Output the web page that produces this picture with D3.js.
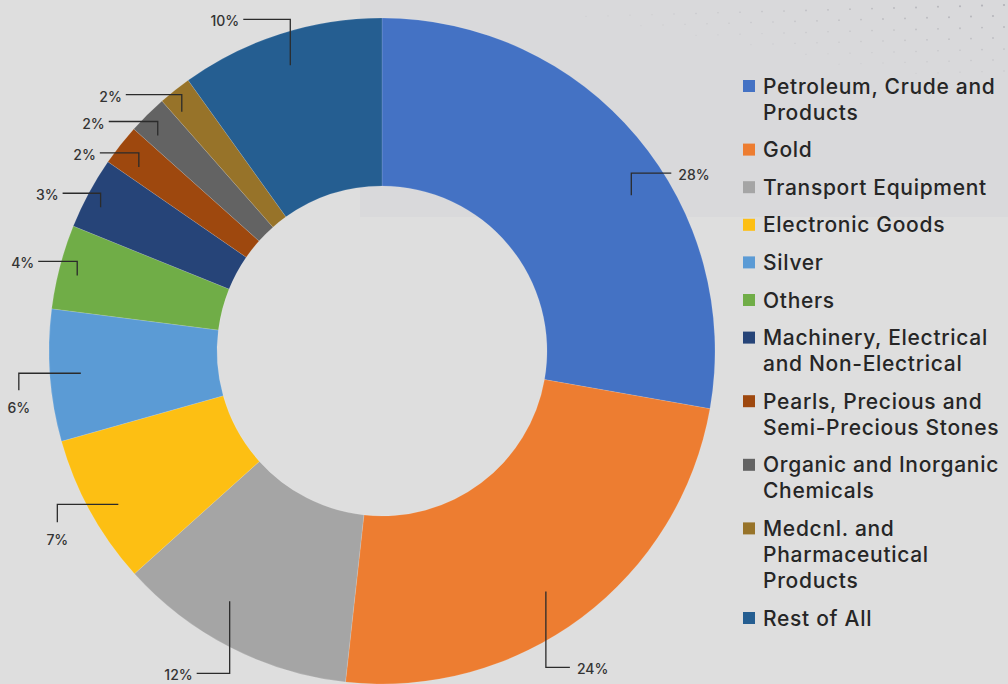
<!DOCTYPE html>
<html>
<head>
<meta charset="utf-8">
<script src="https://cdn.jsdelivr.net/npm/d3@7"></script>
<style>
  html, body { margin: 0; padding: 0; background: #dedede; }
  svg { display: block; }
</style>
</head>
<body>
<svg id="chart" width="1008" height="684"></svg>
<script>
// ---- data ----
const categories = [
  "Petroleum, Crude and Products",
  "Gold",
  "Transport Equipment",
  "Electronic Goods",
  "Silver",
  "Others",
  "Machinery, Electrical and Non-Electrical",
  "Pearls, Precious and Semi-Precious Stones",
  "Organic and Inorganic Chemicals",
  "Medcnl. and Pharmaceutical Products",
  "Rest of All"
];
const legendLines = [
  ["Petroleum, Crude and", "Products"],
  ["Gold"],
  ["Transport Equipment"],
  ["Electronic Goods"],
  ["Silver"],
  ["Others"],
  ["Machinery, Electrical", "and Non-Electrical"],
  ["Pearls, Precious and", "Semi-Precious Stones"],
  ["Organic and Inorganic", "Chemicals"],
  ["Medcnl. and", "Pharmaceutical", "Products"],
  ["Rest of All"]
];
const values = [27.8, 24.0, 11.6, 7.3, 6.4, 4.1, 3.5, 2.0, 1.9, 1.6, 9.9];
const pctLabels = ["28%", "24%", "12%", "7%", "6%", "4%", "3%", "2%", "2%", "2%", "10%"];
const colors = ["#4472c4", "#ed7d31", "#a5a5a5", "#fdbf13", "#5b9bd5", "#70ad47",
                "#264478", "#9e480e", "#636363", "#977329", "#255e91"];

// ---- leader-line layout (anchor position within slice, elbow lengths) ----
const leaders = [
  {t: 0.58, r: 294, order: "vh", a: -22, b: 40},
  {t: 0.53, r: 291, order: "vh", a: 76, b: 24},
  {t: 0.60, r: 293, order: "vh", a: 72, b: -33},
  {t: 0.45, r: 305, order: "hv", a: -61, b: 18},
  {t: 0.50, r: 302, order: "hv", a: -62, b: 17},
  {t: 0.45, r: 314, order: "vh", a: -14, b: -39},
  {t: 0.40, r: 316, order: "vh", a: -14, b: -38},
  {t: 0.35, r: 305, order: "vh", a: -14, b: -39},
  {t: 0.30, r: 311, order: "vh", a: -14, b: -49},
  {t: 0.25, r: 312, order: "vh", a: -17, b: -56},
  {t: 0.50, r: 300, order: "vh", a: -46, b: -47}
];

const svg = d3.select("#chart");
const W = 1008, H = 684;

// background
svg.append("rect").attr("width", W).attr("height", H).attr("fill", "#dedede");
svg.append("rect").attr("x", 360).attr("y", 0).attr("width", W - 360).attr("height", 217)
  .attr("fill", "#d9d9db");

// decorative halftone dots (top-right)
const dots = svg.append("g").attr("fill", "#a8a8ae");
for (let i = 0; i < 24; i++) {
  for (let j = 0; j < 8; j++) {
    const x = 1004 - i * 22 - (j % 2) * 11;
    const y = 5 + j * 11 + i * 0.6;
    const k = 1 - i / 24 - j / 10;
    if (k > 0.2) dots.append("circle").attr("cx", x).attr("cy", y).attr("r", 0.5 + k * 0.6).attr("opacity", k * 0.8);
  }
}

const cx = 382, cy = 351, R = 333, r0 = 165;
const g = svg.append("g").attr("transform", `translate(${cx},${cy})`);

const pie = d3.pie().sort(null).value(d => d).startAngle(0).endAngle(2 * Math.PI);
const arcs = pie(values);
const arc = d3.arc().innerRadius(r0).outerRadius(R);

g.selectAll("path.slice").data(arcs).enter().append("path")
  .attr("class", "slice")
  .attr("d", arc)
  .attr("fill", (d, i) => colors[i])
  .attr("stroke", "rgba(255,255,255,0.25)")
  .attr("stroke-width", 0.5);

// leader lines & labels
const lbl = g.append("g");
arcs.forEach((d, i) => {
  const L = leaders[i];
  const ang = d.startAngle + (d.endAngle - d.startAngle) * L.t;
  const x0 = L.r * Math.sin(ang), y0 = -L.r * Math.cos(ang);
  let x1, y1, x2, y2;
  if (L.order === "vh") { x1 = x0; y1 = y0 + L.a; x2 = x1 + L.b; y2 = y1; }
  else { x1 = x0 + L.a; y1 = y0; x2 = x1; y2 = y1 + L.b; }
  lbl.append("path")
    .attr("d", d3.line()([[x0, y0], [x1, y1], [x2, y2]]))
    .attr("fill", "none").attr("stroke", "#2b2b2b").attr("stroke-width", 1.3);
  const t = lbl.append("text").text(pctLabels[i])
    .attr("font-family", "Inter, sans-serif").attr("font-size", 14).attr("font-weight", 500)
    .attr("fill", "#333");
  if (L.order === "vh") {
    const right = L.b > 0;
    t.attr("x", x2 + (right ? 7 : -4)).attr("y", y2 + 1.5)
      .attr("dominant-baseline", "central")
      .attr("text-anchor", right ? "start" : "end");
  } else {
    t.attr("x", x2).attr("y", y2 + 17).attr("dominant-baseline", "central")
      .attr("text-anchor", "middle");
  }
});

// legend
const leg = svg.append("g").attr("transform", "translate(743,0)");
let yy = 86;
legendLines.forEach((lines, i) => {
  leg.append("rect").attr("x", 0).attr("y", yy - 6).attr("width", 12).attr("height", 12)
    .attr("fill", colors[i]);
  const t = leg.append("text").attr("font-family", "Inter, sans-serif")
    .attr("font-size", 21).attr("font-weight", 500).attr("letter-spacing", 0.7)
    .attr("fill", "#262626");
  lines.forEach((ln, k) => {
    t.append("tspan").attr("x", 20).attr("y", yy + k * 26).attr("dominant-baseline", "central").text(ln);
  });
  yy += (lines.length - 1) * 26 + 37.6;
});
</script>
</body>
</html>
